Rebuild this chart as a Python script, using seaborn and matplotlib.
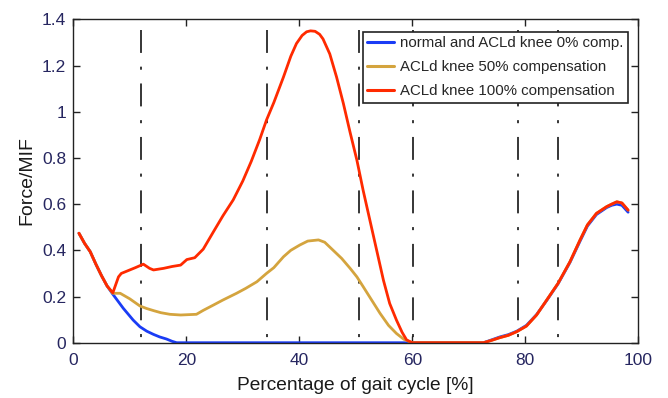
import numpy as np
import pandas as pd
import matplotlib
matplotlib.use("Agg")
import matplotlib.pyplot as plt
import seaborn as sns
from matplotlib.ticker import FuncFormatter

# ---- data ----
red_x = [1, 2, 3, 4, 5, 6, 7, 8, 8.5, 10, 11, 12.4, 13.5, 14.2, 16, 17.5, 19, 20.1, 21.5, 23,
         24.8, 26.5, 28.3, 30, 31.5, 33, 34.2, 35.5, 37.2, 38.5, 39.5, 40.5, 41.3, 42, 42.8,
         43.6, 44.2, 45.4, 46.6, 47.8, 49, 50.2, 51.3, 52.5, 53.7, 54.9, 56, 57.2, 58.2, 59,
         60, 65, 70, 72.6, 74, 75.5, 77, 78.5, 80.2, 82, 83.8, 85.8, 87.9, 89.7, 91, 92.6,
         94.4, 95.3, 96.2, 97.1, 98.2]
red_y = [0.474, 0.43, 0.394, 0.34, 0.29, 0.245, 0.216, 0.285, 0.30, 0.315, 0.325, 0.34, 0.322,
         0.315, 0.322, 0.33, 0.336, 0.36, 0.368, 0.405, 0.48, 0.55, 0.618, 0.70, 0.785, 0.88,
         0.964, 1.04, 1.15, 1.24, 1.295, 1.33, 1.346, 1.35, 1.348, 1.335, 1.315, 1.25, 1.15,
         1.036, 0.91, 0.79, 0.66, 0.53, 0.40, 0.27, 0.17, 0.098, 0.045, 0.012, 0, 0, 0, 0,
         0.01, 0.022, 0.032, 0.048, 0.072, 0.12, 0.185, 0.257, 0.35, 0.445, 0.51, 0.56,
         0.589, 0.60, 0.61, 0.605, 0.574]

gold_x = [1, 2, 3, 4, 5, 6, 7, 8.3, 10, 11.8, 13, 14.2, 15.5, 17.1, 19, 21.8, 23, 24.8, 26.5,
          28.9, 30.5, 32.5, 34.2, 35.5, 37.2, 38.5, 40.1, 41.5, 43.4, 44.5, 46, 47.5, 49,
          50.2, 51.3, 52.8, 54.3, 55.8, 57.2, 58.5, 60, 65, 70, 72.6, 74, 75.5, 77, 78.5,
          80.2, 82, 83.8, 85.8, 87.9, 89.7, 91, 92.6, 94.4, 95.3, 96.2, 97.1, 98.2]
gold_y = [0.474, 0.43, 0.394, 0.34, 0.29, 0.245, 0.214, 0.214, 0.19, 0.159, 0.148, 0.139, 0.13,
          0.123, 0.12, 0.123, 0.14, 0.163, 0.185, 0.214, 0.235, 0.264, 0.30, 0.325, 0.372,
          0.40, 0.423, 0.44, 0.445, 0.435, 0.40, 0.365, 0.322, 0.285, 0.243, 0.185, 0.127,
          0.075, 0.04, 0.015, 0, 0, 0, 0, 0.01, 0.022, 0.032, 0.048, 0.072, 0.12, 0.185,
          0.257, 0.35, 0.445, 0.51, 0.56, 0.589, 0.60, 0.61, 0.605, 0.574]

blue_x = [1, 2, 3, 4, 5, 6, 7, 8.85, 10.6, 11.8, 13, 14.2, 15.3, 16.5, 17.5, 18.3, 30, 45, 60,
          72.6, 74, 75.5, 77, 78.5, 80.2, 82, 83.8, 85.8, 87.9, 89.7, 91, 92.6, 94.4, 95.3,
          96.2, 97.1, 98.2]
blue_y = [0.474, 0.43, 0.394, 0.34, 0.29, 0.245, 0.21, 0.149, 0.098, 0.069, 0.05, 0.036, 0.025,
          0.016, 0.006, 0, 0, 0, 0, 0, 0.012, 0.025, 0.035, 0.05, 0.075, 0.122, 0.183, 0.255,
          0.347, 0.44, 0.505, 0.555, 0.585, 0.595, 0.60, 0.595, 0.565]

labels = ["normal and ACLd knee 0% comp.", "ACLd knee 50% compensation",
          "ACLd knee 100% compensation"]
colors = ["#1a3cf5", "#d4a43e", "#ff2a00"]

phase_x = [11.9, 34.2, 50.6, 60.2, 78.7, 85.8]
phase_top = 1.354

x_ticks = [0, 20, 40, 60, 80, 100]
y_ticks = [0, 0.2, 0.4, 0.6, 0.8, 1.0, 1.2, 1.4]

df = pd.concat([
    pd.DataFrame({"x": blue_x, "y": blue_y, "series": labels[0]}),
    pd.DataFrame({"x": gold_x, "y": gold_y, "series": labels[1]}),
    pd.DataFrame({"x": red_x, "y": red_y, "series": labels[2]}),
], ignore_index=True)

# ---- style ----
sns.set_theme(style="ticks")
plt.rcParams["font.family"] = ["Liberation Sans", "DejaVu Sans"]

fig = plt.figure(figsize=(6.68, 3.98), dpi=100)
ax = fig.add_axes([0.1097, 0.1389, 0.8458, 0.8126])

ax.vlines(phase_x, phase_top, 0, colors="black", linewidth=1.1,
          linestyles=[(0, (15, 9, 2, 9))], zorder=1)

sns.lineplot(data=df, x="x", y="y", hue="series", hue_order=labels,
             palette=dict(zip(labels, colors)), estimator=None, sort=True,
             linewidth=2.0, ax=ax, zorder=2)

ax.set_xlim(0, 100)
ax.set_ylim(0, 1.4)
ax.set_xticks(x_ticks)
ax.set_yticks(y_ticks)
fmt = FuncFormatter(lambda v, p: "%g" % round(v, 2))
ax.xaxis.set_major_formatter(fmt)
ax.yaxis.set_major_formatter(fmt)
ax.tick_params(direction="in", length=5, width=1, top=True, right=True,
               labelsize=12.5, labelcolor="#262660", color="#222222")
ax.tick_params(axis="x", pad=7.5)
ax.tick_params(axis="y", pad=5)
for s in ax.spines.values():
    s.set_visible(True)
    s.set_color("#222222")
    s.set_linewidth(1.0)

ax.set_xlabel("Percentage of gait cycle [%]", fontsize=13.8, color="#1a1a1a", labelpad=6.5)
ax.set_ylabel("Force/MIF", fontsize=14, color="#1a1a1a", labelpad=5)

leg = ax.legend(loc="upper right", bbox_to_anchor=(0.982, 0.962), borderaxespad=0,
                fontsize=10.8, frameon=True, fancybox=False, framealpha=1,
                edgecolor="#222222", handlelength=1.8, handletextpad=0.4,
                borderpad=0.3, labelspacing=0.68, title=None)
leg.get_frame().set_linewidth(1.2)
for line in leg.get_lines():
    line.set_linewidth(2.2)

fig.savefig("out.png", dpi=100)
